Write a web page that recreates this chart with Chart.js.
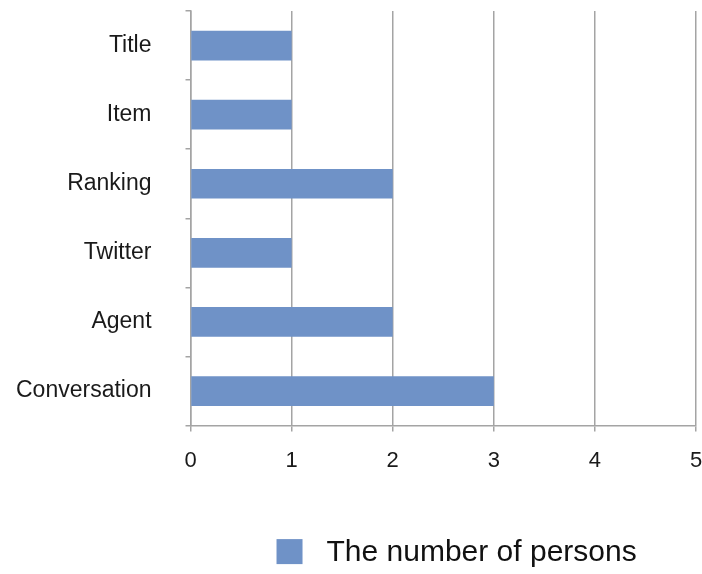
<!DOCTYPE html>
<html>
<head>
<meta charset="utf-8">
<title>The number of persons</title>
<script src="https://cdn.jsdelivr.net/npm/chart.js@4/dist/chart.umd.min.js"></script>
<style>
  html, body { margin: 0; padding: 0; background: #ffffff; }
  #wrap { width: 702px; height: 574px; }
</style>
</head>
<body>
<div id="wrap"><canvas id="chart" width="702" height="574"></canvas></div>
<script>
// Categories listed top to bottom, with the number of persons for each
const categories = ['Title', 'Item', 'Ranking', 'Twitter', 'Agent', 'Conversation'];
const persons = [1, 1, 2, 1, 2, 3];
const seriesLabel = 'The number of persons';
const xTickValues = [0, 1, 2, 3, 4, 5];

const barColor = 'rgb(111, 146, 199)';
const gridColor = '#a4a4a4';
const fontFamily = '"Liberation Sans", Arial, Helvetica, sans-serif';
const xLabelGap = 16;
const yLabelGap = 34;

// Legend drawn under the plot: a square swatch followed by the series name
const legendBelow = {
  id: 'legendBelow',
  afterDraw(chart) {
    const { ctx, chartArea } = chart;
    const ds = chart.data.datasets[0];
    const boxW = 26, boxH = 25;
    const x = chartArea.left + 86;
    const cy = chartArea.bottom + 126;
    ctx.save();
    ctx.fillStyle = ds.backgroundColor;
    ctx.fillRect(x, cy - boxH / 2, boxW, boxH);
    ctx.font = '30px ' + fontFamily;
    ctx.fillStyle = '#111111';
    ctx.textAlign = 'left';
    ctx.textBaseline = 'middle';
    ctx.fillText(ds.label, x + boxW + 24, cy + 1);
    ctx.restore();
  }
};

new Chart(document.getElementById('chart'), {
  type: 'bar',
  data: {
    labels: categories,
    datasets: [{
      label: seriesLabel,
      data: persons,
      backgroundColor: barColor,
      borderWidth: 0,
      barPercentage: 0.43,
      categoryPercentage: 1.0
    }]
  },
  options: {
    indexAxis: 'y',
    responsive: false,
    animation: false,
    layout: { padding: { left: 16, right: 6, top: 11, bottom: 100 } },
    plugins: {
      legend: { display: false },
      tooltip: { enabled: false }
    },
    scales: {
      x: {
        min: 0,
        max: 5,
        afterBuildTicks(scale) {
          scale.ticks = xTickValues.map(v => ({ value: v }));
        },
        // the label gap is reserved only once, below the tick marks
        afterFit(scale) {
          scale.paddingLeft = 0;
          scale.paddingRight = 0;
          scale.height -= xLabelGap;
        },
        grid: {
          color: gridColor,
          lineWidth: 1.5,
          tickLength: 6,
          drawTicks: true
        },
        border: { display: true, color: gridColor, width: 1.5 },
        ticks: {
          padding: xLabelGap,
          color: '#1a1a1a',
          font: { family: fontFamily, size: 22 }
        }
      },
      y: {
        afterFit(scale) {
          scale.paddingTop = 0;
          scale.paddingBottom = 0;
          scale.width -= yLabelGap;
        },
        grid: {
          offset: true,
          drawOnChartArea: false,
          drawTicks: true,
          tickLength: 5,
          color: gridColor,
          lineWidth: 1.5
        },
        border: { display: true, color: gridColor, width: 1.5 },
        ticks: {
          padding: yLabelGap,
          color: '#1a1a1a',
          font: { family: fontFamily, size: 23 }
        }
      }
    }
  },
  plugins: [legendBelow]
});
</script>
</body>
</html>
